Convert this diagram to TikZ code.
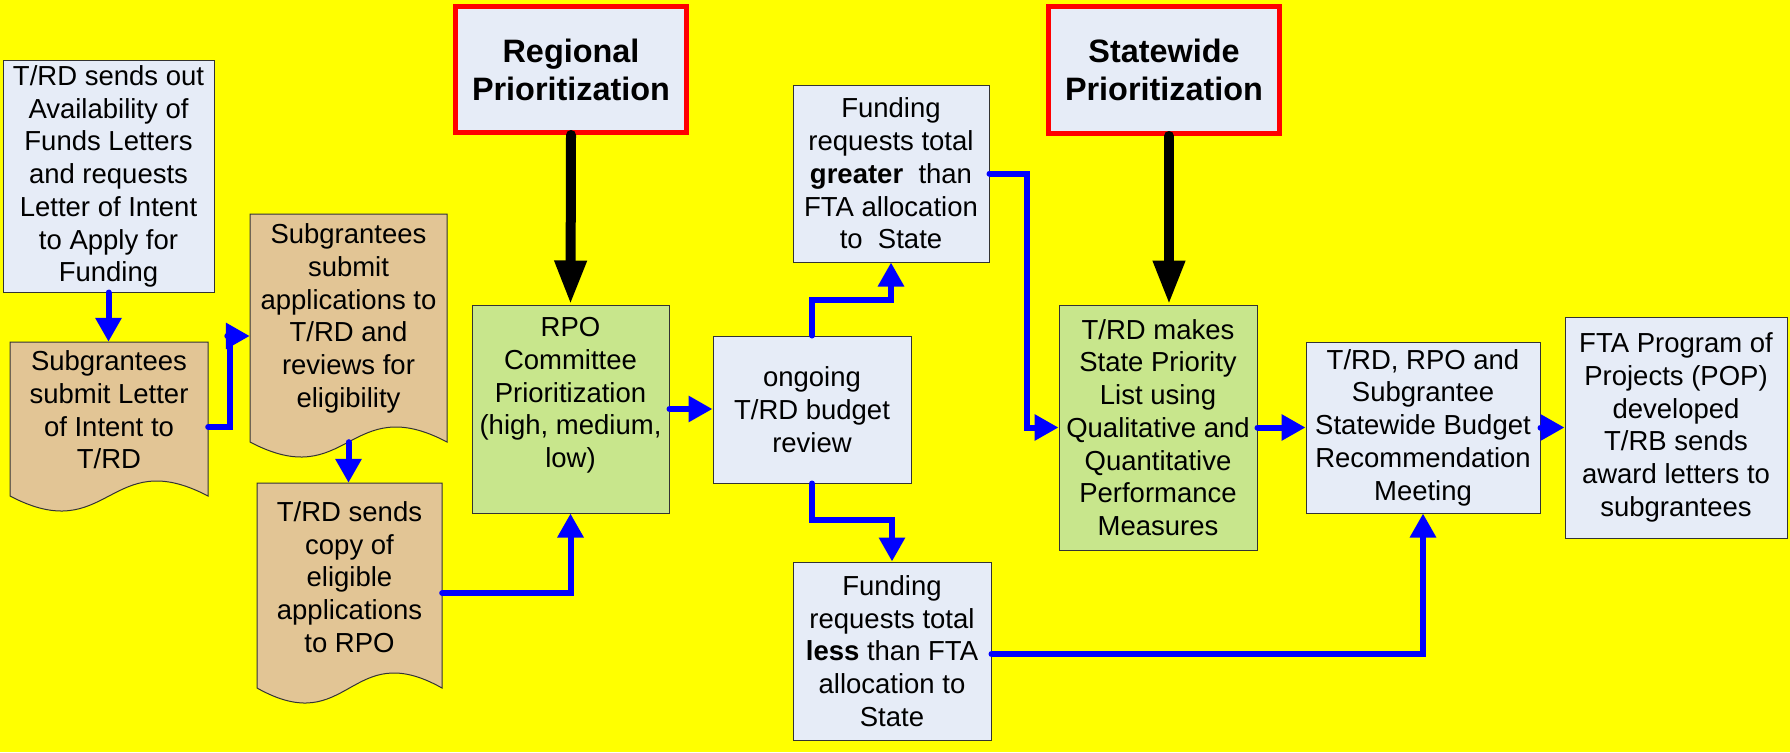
\documentclass[tikz,border=0pt]{standalone}
\usepackage{fontspec}
\setmainfont{Liberation Sans}
\usetikzlibrary{arrows.meta}
\definecolor{boxblue}{RGB}{230,236,247}
\definecolor{doctan}{RGB}{226,197,149}
\definecolor{boxgreen}{RGB}{200,230,140}
\definecolor{bgyellow}{RGB}{255,255,0}
\newcommand\bodyfnt{\fontsize{27.5pt}{32.7pt}\selectfont}
\newcommand\headfnt{\bfseries\fontsize{32.4pt}{38pt}\selectfont}
\begin{document}
\begin{tikzpicture}[x=1pt,y=-1pt,
  box/.style={draw=black!80, line width=1pt, fill=boxblue, align=center, inner sep=0pt, font=\bodyfnt},
  greenbox/.style={box, fill=boxgreen},
  docbox/.style={align=center, inner sep=0pt, font=\bodyfnt},
  docshape/.style={draw=black!80, line width=1pt, fill=doctan},
  headbox/.style={draw=red, line width=5pt, fill=boxblue, align=center, inner sep=0pt, font=\headfnt},
  barrow/.style={draw=blue, line width=6pt, line cap=round, -{Triangle[width=25pt,length=24pt]}},
  karrow/.style={draw=black, line width=10pt, line cap=round, -{Triangle[width=30pt,length=44pt]}}]
\fill[bgyellow] (0,0) rectangle (1790,752);
\useasboundingbox (0,0) rectangle (1790,752);

% nodes
\node[box, minimum width=211pt, minimum height=231pt] (avail) at (108.5,176.5)
  {T/RD sends out\\Availability of\\Funds Letters\\and requests\\Letter of Intent\\to Apply for\\Funding};

\path[docshape] (10,342) -- (208,342) -- (208,496) .. controls (109,444) and (109,548) .. (10,496) -- cycle;
\node[docbox, minimum width=198pt, minimum height=136pt] (loi) at (109,410)
  {Subgrantees\\submit Letter\\of Intent to\\T/RD};

\path[docshape] (250,214) -- (447,214) -- (447,442) .. controls (348.5,390) and (348.5,494) .. (250,442) -- cycle;
\node[docbox, minimum width=197pt, minimum height=209pt] (apps) at (348.5,318.5)
  {Subgrantees\\submit\\applications to\\T/RD and\\reviews for\\eligibility};

\path[docshape] (257,483) -- (442,483) -- (442,688) .. controls (349.5,636) and (349.5,740) .. (257,688) -- cycle;
\node[docbox, minimum width=185pt, minimum height=188pt] (copy) at (349.5,577)
  {T/RD sends\\copy of\\eligible\\applications\\to RPO};

\node[headbox, minimum width=231pt, minimum height=126pt] (regional) at (571,69.5)
  {Regional\\Prioritization};
\node[greenbox, minimum width=197pt, minimum height=208pt] (rpo) at (570.5,409)
  {RPO\\Committee\\Prioritization\\(high, medium,\\low)\\\mbox{}};
\node[box, minimum width=198pt, minimum height=147pt] (ongoing) at (812,409.5)
  {ongoing\\T/RD budget\\review};
\node[box, minimum width=196pt, minimum height=177pt] (greater) at (891,173.5)
  {Funding\\requests total\\\textbf{greater}\ \ than\\FTA allocation\\to\ \ State};
\node[box, minimum width=198pt, minimum height=178pt] (less) at (892,651)
  {Funding\\requests total\\\textbf{less} than FTA\\allocation to\\State};
\node[headbox, minimum width=231pt, minimum height=127pt] (statewide) at (1164,70)
  {Statewide\\Prioritization};
\node[greenbox, minimum width=198pt, minimum height=245pt] (trdm) at (1158,427.5)
  {T/RD makes\\State Priority\\List using\\Qualitative and\\Quantitative\\Performance\\Measures};
\node[box, minimum width=234pt, minimum height=171pt] (meeting) at (1423,427.5)
  {T/RD, RPO and\\Subgrantee\\Statewide Budget\\Recommendation\\Meeting};
\node[box, minimum width=222pt, minimum height=221pt] (fta) at (1676,427.5)
  {FTA Program of\\Projects (POP)\\developed\\T/RB sends\\award letters to\\subgrantees};

% connectors
\draw[barrow] (avail.south) -- (avail.south |- loi.north);
\draw[barrow] ([yshift=-17pt]loi.east) -- ++(22,0) |- ([yshift=-17.5pt]apps.west);
\draw[barrow] ([yshift=-19pt]apps.south) -- (apps.south |- copy.north);
\draw[barrow] ([yshift=-16pt]copy.east) -| (rpo.south);
\draw[karrow] (regional.south) -- (rpo.north);
\draw[barrow] (rpo.east) -- (rpo.east -| ongoing.west);
\draw[barrow] (ongoing.north) -- ++(0,-36) -| (greater.south);
\draw[barrow] (ongoing.south) -- ++(0,36) -| (less.north);
\draw[barrow] (greater.east) -- ++(37,0) |- (trdm.west);
\draw[karrow] ([xshift=5pt]statewide.south) -- ([xshift=5pt]statewide.south |- trdm.north);
\draw[barrow] (trdm.east) -- (meeting.west);
\draw[barrow] ([yshift=-3pt]less.east) -| (meeting.south);
\draw[barrow] (meeting.east) -- (fta.west);
\end{tikzpicture}
\end{document}
